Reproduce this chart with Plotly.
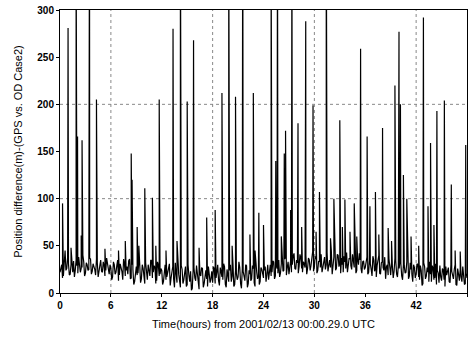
import plotly.graph_objects as go

# Baseline noise, sampled every 0.2 h from 0 to 48 h
base_step = 0.2
base_values = [
    22, 30, 18, 35, 26, 31, 20, 28, 34, 24, 29, 38, 22, 27, 33, 21, 30, 25, 36, 23, 28, 19, 32, 26, 35, 22, 29, 24, 31, 20,
    26, 17, 30, 22, 35, 19, 27, 14, 31, 24, 20, 36, 16, 25, 12, 28, 21, 33, 15, 26, 10, 23, 30, 18, 34, 22, 27, 13, 29, 20,
    24, 12, 30, 17, 26, 8, 22, 15, 32, 11, 20, 6, 25, 14, 28, 9, 19, 23, 5, 27, 13, 21, 4, 18, 26, 10, 24, 7, 20, 15,
    11, 25, 16, 30, 8, 22, 14, 28, 6, 19, 24, 12, 31, 9, 21, 17, 27, 5, 23, 13, 29, 10, 20, 15, 26, 7, 22, 18, 12, 25,
    16, 28, 20, 14, 30, 22, 33, 18, 26, 35, 21, 29, 24, 38, 27, 20, 34, 30, 42, 25, 32, 28, 37, 22, 31, 40, 26, 35, 29, 44,
    28, 36, 24, 33, 41, 27, 38, 30, 23, 35, 45, 29, 34, 26, 40, 31, 37, 22, 33, 43, 28, 36, 25, 32, 39, 24, 30, 35, 21, 34,
    27, 38, 22, 31, 18, 35, 26, 29, 40, 20, 33, 24, 15, 30, 36, 19, 28, 23, 34, 17, 26, 31, 14, 29, 22, 37, 18, 25, 12, 27,
    20, 30, 14, 24, 10, 28, 18, 22, 33, 12, 26, 16, 9, 21, 29, 13, 24, 7, 19, 27, 11, 23, 15, 30, 8, 20, 25, 12, 18, 10,
    16,
]
# In-between samples at 0.1 + 0.2*i h
mid_values = [
    28, 16, 33, 24, 38, 19, 30, 22, 17, 35, 21, 30, 26, 40, 18, 32, 24, 37, 20, 31, 25, 36, 17, 29, 23, 33, 18, 37, 25, 30,
    14, 33, 20, 29, 13, 31, 23, 36, 18, 28, 34, 15, 30, 9, 26, 19, 35, 11, 30, 17, 32, 14, 25, 35, 16, 29, 10, 33, 18, 26,
    9, 28, 14, 24, 31, 16, 28, 6, 20, 26, 13, 29, 10, 22, 7, 30, 12, 3, 24, 16, 29, 8, 20, 27, 6, 22, 15, 28, 11, 23,
    28, 10, 22, 13, 27, 17, 31, 9, 25, 12, 30, 18, 7, 24, 14, 33, 10, 26, 16, 30, 6, 24, 13, 29, 11, 28, 15, 9, 27, 17,
    24, 12, 30, 25, 18, 34, 15, 29, 21, 17, 31, 23, 36, 19, 33, 28, 22, 39, 26, 35, 21, 41, 26, 33, 27, 20, 37, 24, 41, 23,
    39, 21, 34, 27, 22, 36, 25, 43, 32, 27, 20, 38, 24, 41, 28, 21, 30, 39, 26, 22, 37, 29, 41, 27, 21, 36, 42, 26, 33, 25,
    33, 20, 35, 25, 39, 23, 17, 37, 21, 32, 27, 38, 28, 19, 25, 33, 16, 37, 20, 29, 35, 18, 30, 21, 33, 15, 32, 20, 30, 16,
    31, 17, 29, 8, 32, 15, 27, 12, 20, 29, 14, 31, 24, 11, 17, 26, 14, 28, 22, 12, 30, 16, 25, 9, 26, 13, 17, 28, 9, 21,
]

# Spikes (hour, metres); values above 300 are clipped by the axis
spike_hours = [
    0.3, 0.6, 0.95, 1.3, 1.9, 2.07, 2.5, 2.6, 3.48, 4.3, 5.3,
    6.9, 7.7, 8.4, 8.5, 9.1, 9.3, 10.0, 10.9, 11.3, 11.7,
    12.5, 13.33, 13.8, 14.2, 15.0, 15.75, 16.4, 17.3,
    18.3, 19.1, 19.9, 20.3, 20.7, 21.55, 22.4, 22.8, 23.0, 23.45,
    24.0, 24.9, 25.45, 25.65, 26.1, 26.45, 26.6, 27.2, 27.35, 28.07, 28.5, 28.98, 29.84,
    30.2, 30.6, 31.4, 31.9, 32.3, 33.0, 33.3, 33.6, 34.2, 34.7, 35.0, 35.45,
    36.22, 36.55, 37.2, 37.6, 38.04, 38.7, 39.1, 39.5, 39.98, 40.15, 40.5, 40.9, 41.4,
    42.3, 42.86, 43.4, 43.7, 44.1, 44.45, 45.33, 46.15, 46.6, 47.2, 47.85,
]
spike_values = [
    95, 45, 281, 48, 380, 166, 61, 162, 420, 205, 47,
    45, 55, 148, 120, 70, 50, 111, 101, 50, 205,
    45, 280, 55, 400, 203, 268, 48, 80,
    88, 212, 380, 50, 208, 450, 62, 212, 45, 85,
    72, 360, 140, 400, 60, 148, 172, 88, 380, 180, 70, 288, 199,
    65, 107, 420, 58, 100, 183, 70, 99, 65, 95, 60, 259,
    166, 92, 107, 62, 175, 69, 55, 220, 277, 200, 125, 100, 60,
    50, 292, 92, 159, 72, 193, 204, 115, 45, 44, 157,
]

x_ticks = [0, 6, 12, 18, 24, 30, 36, 42, 48]
y_ticks = [0, 50, 100, 150, 200, 250, 300]
grid_x = [6, 18, 30, 42]
grid_y = [100, 200]

pts = [(round(i * base_step, 3), v) for i, v in enumerate(base_values)]
pts += [(round(0.1 + i * base_step, 3), v) for i, v in enumerate(mid_values)]
pts += list(zip(spike_hours, spike_values))
pts.sort(key=lambda p: p[0])
xs = [p[0] for p in pts]
ys = [p[1] for p in pts]

fig = go.Figure()
fig.add_trace(go.Scatter(x=xs, y=ys, mode="lines",
                         line=dict(color="black", width=1.2), showlegend=False))

for gx in grid_x:
    fig.add_shape(type="line", xref="x", yref="y", x0=gx, x1=gx, y0=0, y1=300,
                  line=dict(color="#888", width=1, dash="dot"), layer="below")
for gy in grid_y:
    fig.add_shape(type="line", xref="x", yref="y", x0=0, x1=48, y0=gy, y1=gy,
                  line=dict(color="#888", width=1, dash="dot"), layer="below")

font = "Liberation Sans, Arial, sans-serif"
fig.update_layout(
    width=471, height=343,
    margin=dict(l=60, r=4, t=10, b=50),
    paper_bgcolor="white", plot_bgcolor="white",
    font=dict(family=font, color="black"),
    xaxis=dict(range=[0, 48], tickvals=x_ticks, ticktext=[str(t) for t in x_ticks],
               showgrid=False, zeroline=False, showline=True, linecolor="black",
               linewidth=1, mirror=True, ticks="outside", ticklen=3, tickcolor="black",
               tickfont=dict(size=10, family=font, weight="bold"),
               title=dict(text="Time(hours) from 2001/02/13 00:00.29.0 UTC",
                          font=dict(size=11, family=font), standoff=10)),
    yaxis=dict(range=[0, 300], tickvals=y_ticks, ticktext=[str(t) for t in y_ticks],
               showgrid=False, zeroline=False, showline=True, linecolor="black",
               linewidth=1, mirror=True, ticks="outside", ticklen=3, tickcolor="black",
               tickfont=dict(size=10, family=font, weight="bold"),
               title=dict(text="Position difference(m)-(GPS vs. OD Case2)",
                          font=dict(size=11, family=font), standoff=12)),
)

fig.write_html("out.html")
